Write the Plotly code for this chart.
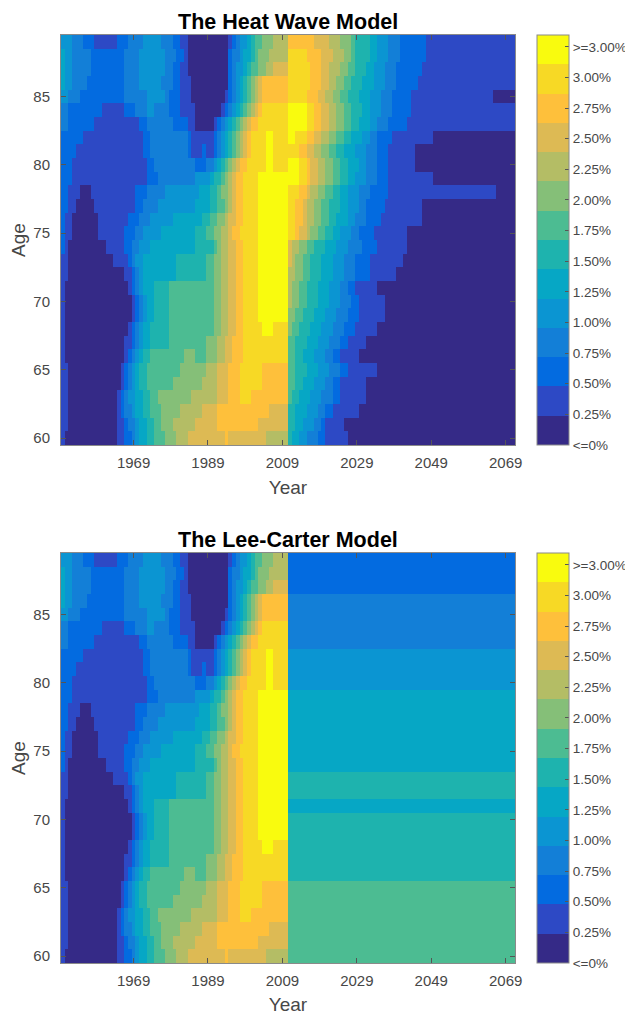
"""
Mortality improvement heat maps: Heat Wave model vs Lee-Carter model
(age 60-89, calendar years 1950-2071, banded improvement rates)
"""

import plotly.graph_objects as go

YEARS = list(range(1950, 2072))
AGES_TOP_DOWN = list(range(89, 59, -1))

# band labels, bottom band first
LEVEL_LABELS = ["<=0%", "0.25%", "0.50%", "0.75%", "1.00%", "1.25%", "1.50%",
                "1.75%", "2.00%", "2.25%", "2.50%", "2.75%", "3.00%", ">=3.00%"]

# parula, 14 steps
LEVEL_COLORS = ["#352a87", "#2d49c5", "#036be0", "#137fd7", "#0b95d2", "#06a7c5",
                "#1eb3ae", "#4cbc92", "#85bf78", "#b4bd65", "#ddba54", "#fec03b",
                "#f7d925", "#f9fb0e"]

# observed bands 1950-2010, one row per age (89 first), "band:years"
HIST_ROWS = [
    "4:3 3:3 2:3 1:6 2:3 3:4 4:5 3:3 2:2 1:2 0:11 1:1 2:1 3:1 4:2 5:1 6:1 7:2 8:3 9:4",
    "5:1 4:2 3:5 2:9 3:4 4:7 3:3 2:2 1:1 0:11 2:1 3:2 4:1 5:2 6:1 7:1 8:3 9:5",
    "5:1 4:2 3:5 2:9 3:4 4:7 3:2 2:2 1:2 0:11 2:1 3:1 4:2 5:1 6:1 7:2 8:2 9:2 10:4",
    "5:1 4:2 3:4 2:10 3:4 4:6 3:3 2:2 1:3 0:10 2:1 3:1 4:1 5:1 6:1 7:1 8:1 9:1 10:1 11:7",
    "4:2 3:3 2:12 3:6 4:5 3:1 2:3 1:3 0:9 1:1 2:1 3:1 4:1 5:1 6:1 7:1 8:1 9:1 10:1 11:7",
    "3:2 2:9 1:6 2:3 3:3 4:2 3:4 2:3 1:4 0:7 1:1 2:1 3:1 4:1 5:1 6:1 7:1 8:1 9:1 10:1 11:1 12:7",
    "3:2 2:7 1:12 2:2 3:7 2:4 1:2 0:5 1:1 2:1 3:1 4:1 5:1 6:1 7:1 8:1 9:1 10:1 11:2 12:8",
    "2:6 1:16 2:2 3:10 2:1 1:6 2:1 3:1 4:1 5:1 6:1 7:1 8:1 9:1 10:1 11:1 12:4 13:2 12:4",
    "2:4 1:18 2:2 3:10 2:1 1:3 2:1 1:2 2:1 3:1 4:1 5:1 6:1 7:1 8:1 9:1 10:1 11:1 12:4 13:2 12:4",
    "2:3 1:20 2:2 3:11 2:3 3:2 4:1 5:1 6:1 7:1 8:1 9:1 10:1 11:2 12:5 13:2 12:4",
    "2:3 1:20 2:3 3:10 4:4 5:1 6:2 7:1 8:1 9:1 10:1 11:2 12:4 13:8",
    "2:2 1:3 0:3 1:12 2:3 3:5 4:9 5:3 6:2 7:1 8:2 9:1 10:1 11:2 12:4 13:8",
    "2:2 1:2 0:5 1:11 2:2 3:4 4:10 5:4 6:2 7:2 8:1 9:1 10:1 11:2 12:4 13:8",
    "2:1 1:2 0:7 1:8 2:3 3:3 4:6 5:8 6:2 7:2 8:2 9:1 10:2 11:2 12:4 13:8",
    "2:1 1:2 0:7 1:7 2:3 3:2 4:5 5:9 6:3 7:2 8:2 9:2 10:1 11:2 12:5 13:8",
    "2:1 1:1 0:10 1:5 2:2 3:2 4:3 5:12 6:5 7:1 8:1 9:2 10:2 11:2 12:4 13:8",
    "1:2 0:12 1:4 2:1 3:1 4:2 5:9 6:8 7:2 8:2 9:2 10:2 11:2 12:4 13:8",
    "1:2 0:15 1:2 2:1 3:1 4:1 5:9 6:8 7:2 8:2 9:2 10:2 11:2 12:4 13:8",
    "1:1 0:17 1:1 2:1 3:1 4:1 5:3 6:4 7:12 8:2 9:2 10:2 11:2 12:4 13:8",
    "1:1 0:18 1:1 2:1 3:1 4:1 5:2 6:4 7:12 8:2 9:2 10:2 11:2 12:4 13:8",
    "1:1 0:18 1:1 2:1 3:1 4:1 5:2 6:4 7:12 8:2 9:2 10:2 11:2 12:4 13:8",
    "1:1 0:17 1:1 2:1 3:1 4:1 5:2 6:5 7:12 8:2 9:2 10:2 11:2 12:5 13:3 12:4",
    "1:1 0:16 1:2 2:1 3:1 4:1 5:2 6:5 7:10 8:3 9:2 10:2 11:3 12:12",
    "1:1 0:16 1:1 2:1 3:1 4:1 5:1 6:2 7:9 8:3 7:3 8:3 9:2 10:2 11:3 12:12",
    "1:2 0:14 1:1 2:1 3:1 4:1 5:1 6:2 7:9 8:7 9:3 10:3 11:3 12:6 11:7",
    "1:2 0:14 1:1 2:1 3:1 4:1 5:1 6:2 7:7 8:8 9:4 10:3 11:3 12:6 11:7",
    "1:2 0:13 1:1 2:1 3:1 4:2 5:2 6:2 7:2 8:9 9:7 10:3 11:3 12:3 11:10",
    "1:2 0:13 1:1 2:1 3:2 4:1 5:2 6:2 7:3 8:5 9:6 10:4 11:14 10:5",
    "1:2 0:13 1:2 2:1 3:2 4:1 5:2 6:2 7:2 8:3 9:6 10:6 11:11 10:8",
    "1:1 0:14 1:2 2:2 3:1 4:1 5:2 6:2 7:3 8:3 9:3 10:10 11:1 10:10 9:6",
]

# heat wave projection 2011-2071, same row order
HEATWAVE_ROWS = [
    "11:7 10:4 9:3 8:3 7:1 6:4 5:2 4:3 3:3 2:7 1:24",
    "12:5 11:4 10:3 9:3 8:2 7:1 6:4 5:2 4:3 3:3 2:7 1:24",
    "12:6 11:3 10:2 9:3 8:2 7:2 6:3 5:2 4:3 3:3 2:7 1:25",
    "12:6 11:3 10:2 9:2 8:2 7:2 6:3 5:3 4:3 3:3 2:6 1:26",
    "12:5 11:3 10:2 9:2 8:2 7:2 6:3 5:3 4:3 3:3 2:5 1:22 0:6",
    "13:5 12:2 11:2 10:2 9:2 8:2 7:2 6:3 5:2 4:3 3:3 2:5 1:28",
    "13:5 12:2 11:2 10:2 9:2 8:2 7:2 6:2 5:3 4:2 3:3 2:5 1:29",
    "13:2 12:3 11:2 10:2 9:2 8:2 7:2 6:2 5:3 4:2 3:2 2:4 1:11 0:22",
    "12:3 11:2 10:2 9:2 8:2 7:2 6:2 5:3 4:3 3:3 2:3 1:7 0:27",
    "13:3 12:2 11:1 10:2 9:2 8:2 7:2 6:2 5:3 4:2 3:3 2:3 1:7 0:27",
    "13:3 12:2 11:1 10:2 9:2 8:2 7:2 6:2 5:2 4:3 3:3 2:3 1:12 0:22",
    "12:3 11:2 10:1 9:2 8:2 7:2 6:2 5:2 4:3 3:3 2:5 1:29 0:5",
    "12:2 11:2 10:1 9:2 8:2 7:2 6:3 5:2 4:3 3:2 2:5 1:10 0:25",
    "12:2 11:2 10:1 9:2 8:2 7:2 6:2 5:3 4:2 3:3 2:4 1:11 0:25",
    "12:2 11:1 10:2 9:1 8:2 7:2 6:2 5:2 4:3 3:2 2:4 1:9 0:29",
    "10:1 9:2 8:2 7:2 6:3 5:3 4:3 3:4 2:4 1:8 0:29",
    "10:1 9:1 8:2 7:2 6:3 5:3 4:3 3:3 2:4 1:9 0:30",
    "9:2 8:2 7:2 6:3 5:3 4:3 3:3 2:4 1:7 0:32",
    "9:1 8:2 7:2 6:3 5:3 4:3 3:2 2:2 1:6 0:37",
    "9:1 8:2 7:2 6:3 5:3 4:3 3:3 2:2 1:7 0:35",
    "8:2 7:2 6:3 5:3 4:3 3:3 2:3 1:7 0:35",
    "8:1 7:2 6:3 5:3 4:3 3:3 2:3 1:6 0:37",
    "7:2 6:3 5:3 4:3 3:3 2:2 1:5 0:40",
    "7:2 6:2 5:3 4:3 3:2 2:2 1:5 0:42",
    "7:2 6:3 5:3 4:3 3:3 2:2 1:8 0:37",
    "7:2 6:2 5:3 4:3 3:2 2:2 1:7 0:40",
    "7:1 6:2 5:3 4:3 3:3 2:2 1:7 0:40",
    "6:2 5:3 4:3 3:2 2:2 1:7 0:42",
    "6:2 5:2 4:3 3:2 2:1 1:5 0:46",
    "6:1 5:2 4:2 3:3 2:2 1:6 0:45",
]

# Lee-Carter projected band per age (flat over 2011-2071), age 89 first
LEECARTER_LEVELS = [2, 2, 2, 3, 3, 3, 3, 4, 4, 4, 5, 5, 5, 5, 5, 5,
                    6, 6, 5, 6, 6, 6, 6, 6, 7, 7, 7, 7, 7, 7]

N_PROJ = 61
FONT = "Liberation Sans, Arial, sans-serif"
TXT = "#474747"
LINE = "#8a8a8a"


def _expand(row):
    """'band:count band:count ...' -> list of bands, one per year"""
    out = []
    for part in row.split():
        lvl, n = part.split(":")
        out += [int(lvl)] * int(n)
    return out


def build_grids():
    ages = AGES_TOP_DOWN[::-1]
    hw, lc = [], []
    for k in range(len(AGES_TOP_DOWN) - 1, -1, -1):
        hist = _expand(HIST_ROWS[k])
        hw.append(hist + _expand(HEATWAVE_ROWS[k]))
        lc.append(hist + [LEECARTER_LEVELS[k]] * N_PROJ)
    return ages, hw, lc


def band_scale():
    n = len(LEVEL_COLORS)
    scale = []
    for i, c in enumerate(LEVEL_COLORS):
        scale.append([i / n, c])
        scale.append([(i + 1) / n, c])
    return scale


def colorbar(y_top):
    n = len(LEVEL_LABELS)
    # tick labels sit slightly off the band edges, as in the source figure
    tickvals = [-0.5 + i * 1.046 for i in range(n)]
    return dict(x=1.048, xanchor="left", xpad=0, y=y_top, yanchor="top", ypad=0,
                len=0.4418, lenmode="fraction", thickness=32,
                outlinewidth=1, outlinecolor=LINE,
                tickmode="array", tickvals=tickvals, ticktext=LEVEL_LABELS,
                ticks="inside", ticklen=4, tickcolor="#555555",
                tickfont=dict(family=FONT, size=13.5, color=TXT))


def main():
    ages, hw, lc = build_grids()
    cs = band_scale()

    fig = go.Figure()
    fig.add_trace(go.Heatmap(x=YEARS, y=ages, z=hw, colorscale=cs, zmin=-0.5, zmax=13.5,
                             colorbar=colorbar(1.0), xaxis="x", yaxis="y",
                             hovertemplate="Year %{x}<br>Age %{y}<br>band %{z}<extra></extra>"))
    fig.add_trace(go.Heatmap(x=YEARS, y=ages, z=lc, colorscale=cs, zmin=-0.5, zmax=13.5,
                             colorbar=colorbar(0.4418), xaxis="x2", yaxis="y2",
                             hovertemplate="Year %{x}<br>Age %{y}<br>band %{z}<extra></extra>"))

    xax = dict(range=[1949.5, 2071.5], tickvals=[1969, 1989, 2009, 2029, 2049, 2069],
               ticks="inside", ticklen=5, tickcolor="#555555", showline=True,
               linecolor=LINE, linewidth=1, mirror="ticks", showgrid=False, zeroline=False,
               automargin=False, tickfont=dict(family=FONT, size=15, color=TXT),
               ticklabelstandoff=4,
               title=dict(text="Year", font=dict(family=FONT, size=19, color=TXT), standoff=10))
    yax = dict(range=[59.5, 89.5], tickvals=[60, 65, 70, 75, 80, 85],
               ticks="inside", ticklen=5, tickcolor="#555555", showline=True,
               linecolor=LINE, linewidth=1, mirror="ticks", showgrid=False, zeroline=False,
               automargin=False, tickfont=dict(family=FONT, size=15, color=TXT),
               ticklabelstandoff=7,
               title=dict(text="Age", font=dict(family=FONT, size=19, color=TXT), standoff=4))

    # page body adds an 8px offset, so the figure is 8px smaller than the window
    title_font = dict(family=FONT, size=21.5, color="black")
    fig.update_layout(
        width=625, height=1007,
        margin=dict(l=53, r=118, t=27, b=52, autoexpand=False),
        paper_bgcolor="white", plot_bgcolor="white",
        xaxis=dict(xax, domain=[0, 1], anchor="y"),
        yaxis=dict(yax, domain=[0.5582, 1], anchor="x"),
        xaxis2=dict(xax, domain=[0, 1], anchor="y2"),
        yaxis2=dict(yax, domain=[0, 0.4418], anchor="x2"),
        showlegend=False,
        annotations=[
            dict(text="<b>The Heat Wave Model</b>", x=0.5, y=1.0285, xref="paper", yref="paper",
                 xanchor="center", yanchor="top", borderpad=0, showarrow=False,
                 font=title_font),
            dict(text="<b>The Lee-Carter Model</b>", x=0.5, y=0.4703, xref="paper", yref="paper",
                 xanchor="center", yanchor="top", borderpad=0, showarrow=False,
                 font=title_font),
        ],
    )
    fig.write_html("out.html")


if __name__ == '__main__':
    main()
